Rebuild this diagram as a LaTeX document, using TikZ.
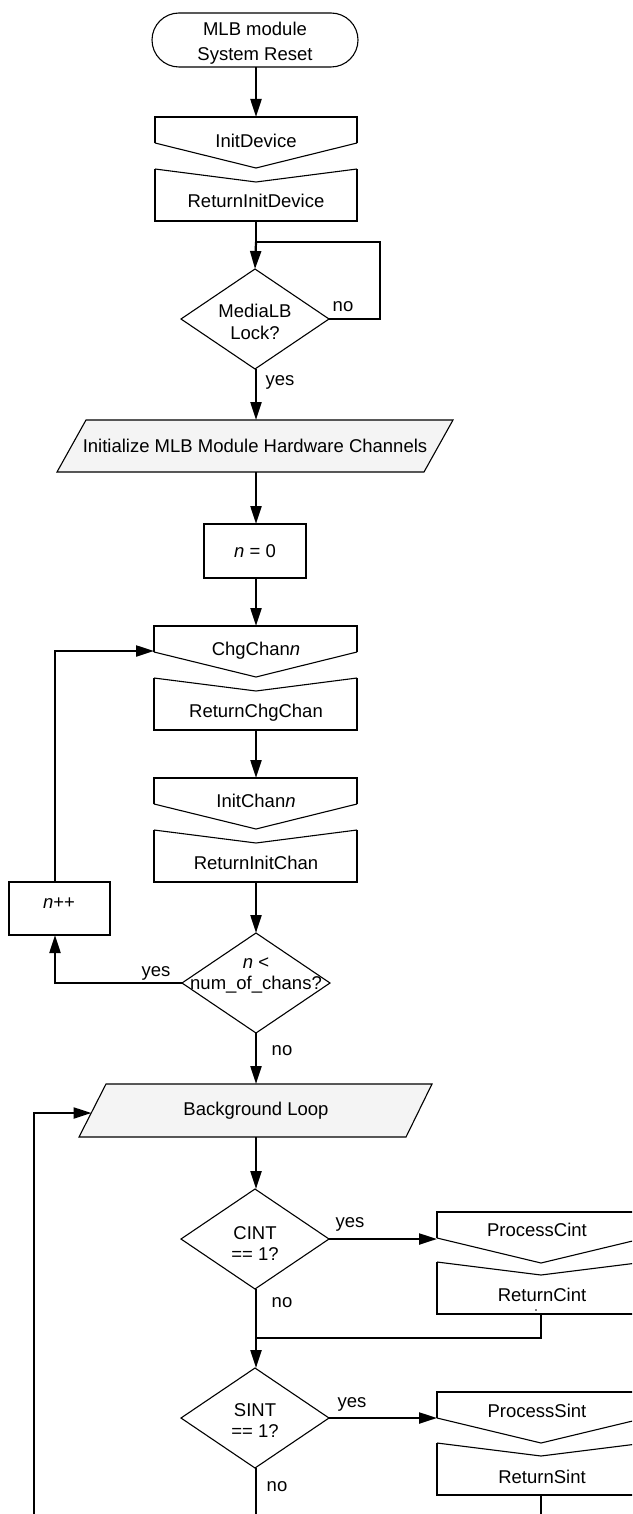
\documentclass[tikz,border=0pt]{standalone}
\usepackage{fontspec}
\setmainfont{Liberation Sans}
\usetikzlibrary{arrows.meta}
\definecolor{pgray}{HTML}{F4F4F4}
\newcommand{\CallShape}[4]{%
  \draw[thn] (#1,#3+26) -- (#4,#3+51) -- (#2,#3+26);
  \draw[thk] (#1,#3+26) -- (#1,#3) -- (#2,#3) -- (#2,#3+26);}
\newcommand{\RetShape}[4]{%
  \draw[thn] (#1,#3) -- (#4,#3+13) -- (#2,#3);
  \draw[thk] (#1,#3) -- (#1,#3+52) -- (#2,#3+52) -- (#2,#3);}
\newcommand{\Dia}[2]{%
  \draw[thn] (#1-74,#2) -- (#1,#2-50) -- (#1+74,#2) -- (#1,#2+50) -- cycle;}
\begin{document}
\begin{tikzpicture}[x=1pt,y=-1pt,
  conn/.style={line width=2.2pt},
  arr/.style={conn,-{Triangle[length=18pt,width=11pt]}},
  thk/.style={line width=2.2pt},
  thn/.style={line width=1.1pt},
  txt/.style={anchor=base,inner sep=0pt,font=\fontsize{18.5}{22}\selectfont}]
\useasboundingbox (0,0) rectangle (632,1514);
\clip (0,0) rectangle (632,1514);

% terminal
\draw[thn, rounded corners=27pt] (152,13) rectangle (358,67);
\node[txt] (termA) at (255,36) {MLB module};
\node[txt] (termB) at (255,61) {System Reset};
\coordinate (termS) at (256,67);

% InitDevice / ReturnInitDevice
\CallShape{155}{357}{117}{256}
\node[txt] (initdev) at (256,148) {InitDevice};
\coordinate (initdevN) at (256,117);
\RetShape{155}{357}{169}{256}
\node[txt] (retinitdev) at (256,208) {ReturnInitDevice};
\coordinate (retinitdevS) at (256,221);
\draw[arr] (termS) -- (initdevN);

% MediaLB Lock?
\Dia{255}{319}
\node[txt] (lockA) at (255,317) {MediaLB};
\node[txt] (lockB) at (255,339) {Lock?};
\coordinate (lockN) at (255,269);
\coordinate (lockE) at (329,319);
\coordinate (lockS) at (256,369);
\coordinate (j1) at (256,242);
\coordinate (j1r) at (380,242);
\draw[conn] (retinitdevS) -- (j1);
\draw[arr] (j1) -- (lockN);
\draw[conn] (lockE) -| (j1r) -- (j1);
\node[txt] (no1) at (343,311) {no};
\node[txt] (yes1) at (280,385) {yes};

% Initialize hardware channels
\draw[thn, fill=pgray] (86,420) -- (453,420) -- (424,472) -- (57,472) -- cycle;
\node[txt] (inithw) at (255,452) {Initialize MLB Module Hardware Channels};
\coordinate (inithwN) at (256,420);
\coordinate (inithwS) at (256,472);
\draw[arr] (lockS) -- (inithwN);

% n = 0
\draw[thk] (204,524) rectangle (306,578);
\node[txt] (n0) at (255,557) {\textit{n} = 0};
\coordinate (n0N) at (256,524);
\coordinate (n0S) at (256,578);
\draw[arr] (inithwS) -- (n0N);

% ChgChan
\CallShape{154}{357}{626}{256}
\node[txt] (chg) at (256,655) {ChgChan\textit{n}};
\coordinate (chgN) at (256,626);
\coordinate (chgW) at (154,651);
\RetShape{154}{357}{678}{256}
\node[txt] (retchg) at (256,717) {ReturnChgChan};
\coordinate (retchgS) at (256,730);
\draw[arr] (n0S) -- (chgN);

% InitChan
\CallShape{154}{357}{778}{256}
\node[txt] (initch) at (256,807) {InitChan\textit{n}};
\coordinate (initchN) at (256,778);
\RetShape{154}{357}{830}{256}
\node[txt] (retinitch) at (256,869) {ReturnInitChan};
\coordinate (retinitchS) at (256,882);
\draw[arr] (retchgS) -- (initchN);

% n < num_of_chans?
\Dia{256}{983}
\node[txt] (d2A) at (256,968) {\textit{n} <};
\node[txt] (d2B) at (256,989) {num\_of\_chans?};
\coordinate (d2N) at (256,933);
\coordinate (d2W) at (182,983);
\coordinate (d2S) at (256,1033);
\draw[arr] (retinitchS) -- (d2N);

% n++
\draw[thk] (9,882) rectangle (110,935);
\node[txt] (npp) at (59,908) {\textit{n}++};
\coordinate (nppS) at (55,935);
\coordinate (nppN) at (55,882);
\draw[arr] (d2W) -| (nppS);
\draw[arr] (nppN) |- (chgW);
\node[txt] (yes2) at (156,976) {yes};
\node[txt] (no2) at (282,1055) {no};

% Background Loop
\draw[thn, fill=pgray] (106,1084) -- (432,1084) -- (406,1137) -- (79,1137) -- cycle;
\node[txt] (bg) at (256,1115) {Background Loop};
\coordinate (bgN) at (256,1084);
\coordinate (bgS) at (256,1137);
\coordinate (bgW) at (91.5,1113);
\coordinate (botL) at (34,1514);
\draw[arr] (d2S) -- (bgN);
\draw[arr] (botL) |- (bgW);

% CINT
\Dia{255}{1239}
\node[txt] (cA) at (255,1239) {CINT};
\node[txt] (cB) at (255,1260) {== 1?};
\coordinate (cN) at (256,1189);
\coordinate (cE) at (329,1239);
\coordinate (cS) at (256,1289);
\draw[arr] (bgS) -- (cN);
\CallShape{437}{645}{1212}{541}
\node[txt] (pc) at (537,1236) {ProcessCint};
\coordinate (pcW) at (437,1239);
\RetShape{437}{645}{1262}{541}
\node[txt] (rc) at (542,1301) {ReturnCint};
\fill (536,1310) circle (0.9);
\coordinate (rcS) at (541,1314);
\coordinate (j2) at (256,1338);
\draw[arr] (cE) -- (pcW);
\draw[conn] (rcS) |- (j2);
\node[txt] (yes3) at (350,1227) {yes};
\node[txt] (no3) at (282,1307) {no};

% SINT
\Dia{255}{1418}
\node[txt] (sA) at (255,1416) {SINT};
\node[txt] (sB) at (255,1437) {== 1?};
\coordinate (sN) at (256,1368);
\coordinate (sE) at (329,1418);
\coordinate (sS) at (256,1468);
\coordinate (botM) at (256,1514);
\draw[arr] (cS) -- (sN);
\draw[conn] (sS) -- (botM);
\CallShape{437}{645}{1392}{541}
\node[txt] (ps) at (537,1417) {ProcessSint};
\coordinate (psW) at (437,1418);
\RetShape{437}{645}{1443}{541}
\node[txt] (rs) at (542,1483) {ReturnSint};
\coordinate (rsS) at (541,1495);
\coordinate (botR) at (541,1514);
\draw[arr] (sE) -- (psW);
\draw[conn] (rsS) -- (botR);
\node[txt] (yes4) at (352,1407) {yes};
\node[txt] (no4) at (277,1491) {no};
\end{tikzpicture}
\end{document}
